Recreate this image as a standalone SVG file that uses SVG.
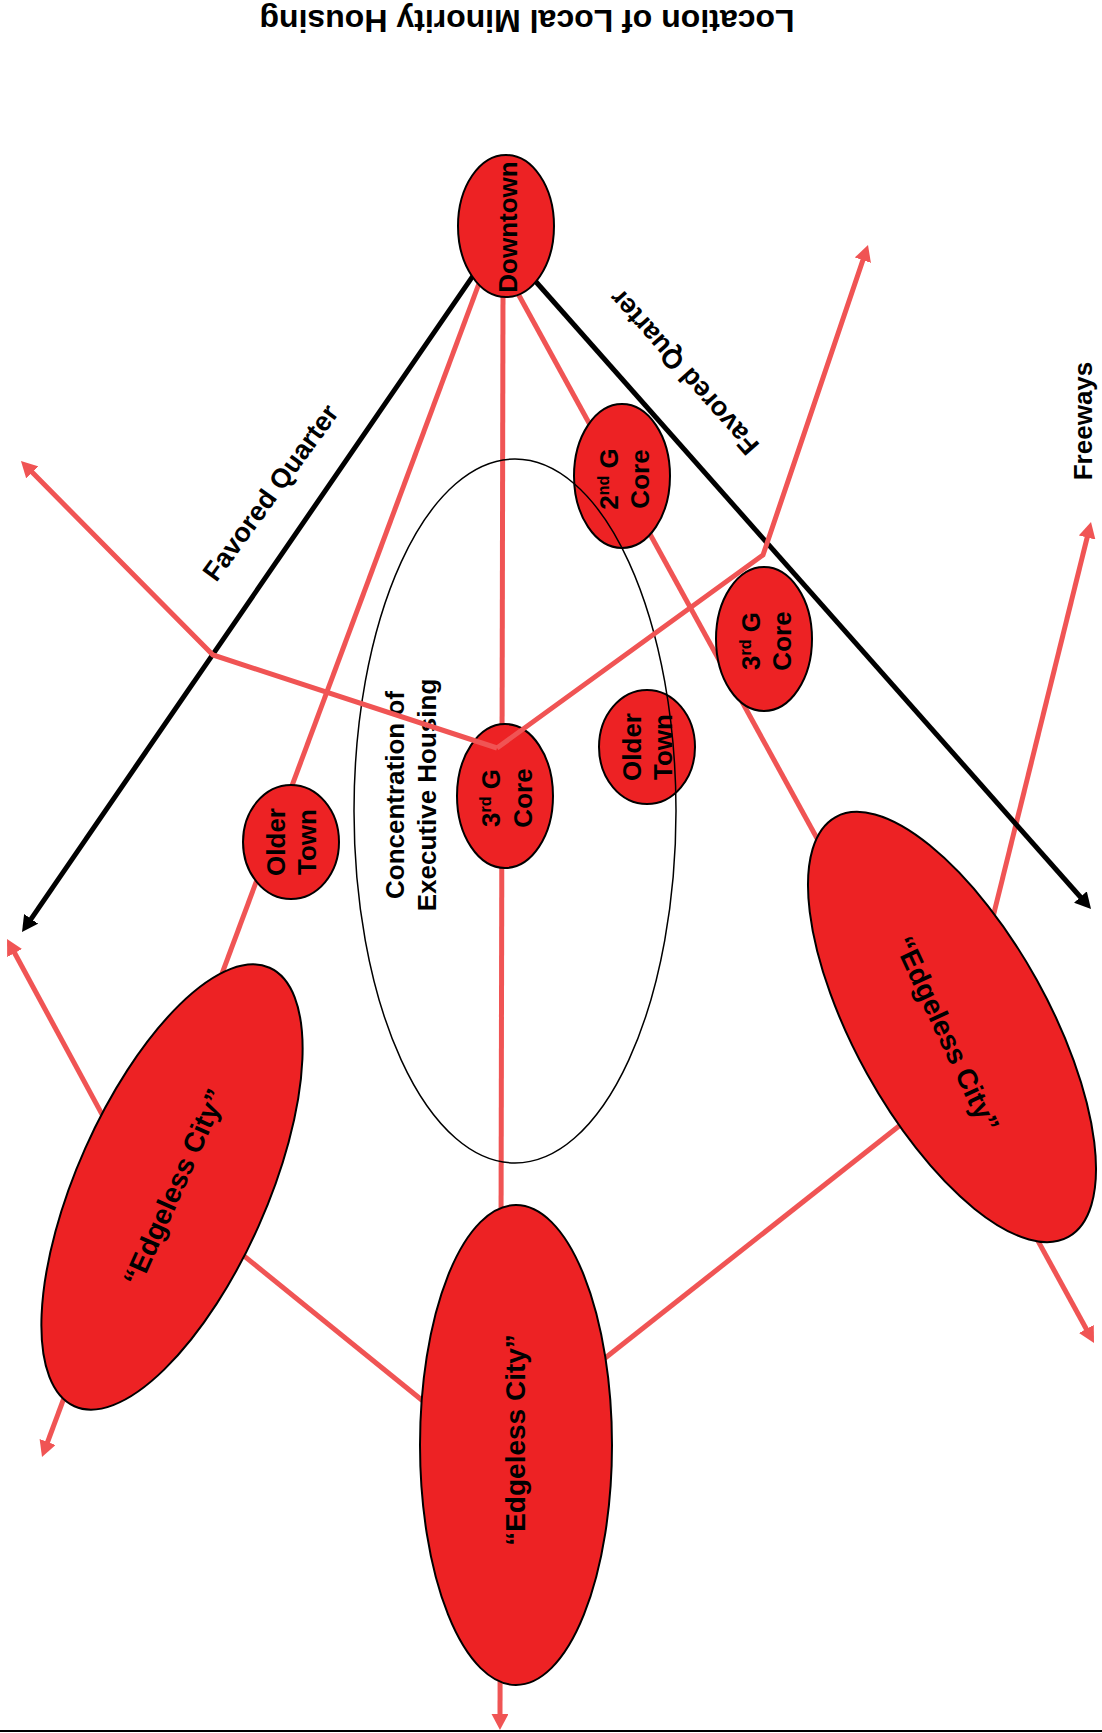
<svg xmlns="http://www.w3.org/2000/svg" width="1102" height="1733" viewBox="0 0 1102 1733">
<style>
.node{fill:#ED2224;stroke:#000;stroke-width:2}
.lbl{font-family:"Liberation Sans",Arial,sans-serif;font-weight:bold;font-size:26px;fill:#000;text-anchor:middle}
.big{font-size:28px}
.red{stroke:#F05454;stroke-width:5;fill:none}
.blk{stroke:#000;stroke-width:5;fill:none}
</style>
<defs>
<marker id="ar" markerUnits="userSpaceOnUse" markerWidth="16" markerHeight="17" viewBox="0 0 16 17" refX="6" refY="8.5" orient="auto"><path d="M0,0 L16,8.5 L0,17 z" fill="#F05454"/></marker>
<marker id="ab" markerUnits="userSpaceOnUse" markerWidth="16" markerHeight="17" viewBox="0 0 16 17" refX="6" refY="8.5" orient="auto"><path d="M0,0 L16,8.5 L0,17 z" fill="#000"/></marker>
</defs>
<rect width="1102" height="1733" fill="#fff"/>
<g id="title"><text class="lbl" style="font-size:32px" transform="translate(527,10) rotate(180)">Location of Local Minority Housing</text></g>
<g id="connectors">
<line class="red" x1="487" y1="262" x2="45.5" y2="1447.6" marker-end="url(#ar)"/>
<line class="red" x1="503" y1="290" x2="500" y2="1720" marker-end="url(#ar)"/>
<line class="red" x1="516" y1="290" x2="1089.2" y2="1334.2" marker-end="url(#ar)"/>
<line class="red" x1="106.5" y1="1122.6" x2="11.8" y2="947.8" marker-end="url(#ar)"/>
<line class="red" x1="985.8" y1="946" x2="1088.6" y2="531.7" marker-end="url(#ar)"/>
<line class="red" x1="233" y1="1247" x2="439" y2="1414"/>
<line class="red" x1="590" y1="1370" x2="913" y2="1115"/>
<line class="blk" x1="475.7" y1="271.8" x2="27.7" y2="923.8" marker-end="url(#ab)"/>
<line class="blk" x1="530.4" y1="275.5" x2="1084.4" y2="901.5" marker-end="url(#ab)"/>
</g>
<g id="downtown"><ellipse class="node" cx="506" cy="226" rx="48" ry="71"/><text class="lbl" transform="translate(517,227) rotate(-90)">Downtown</text></g>
<g id="core2"><ellipse class="node" cx="622" cy="476" rx="48" ry="72"/><text class="lbl" transform="translate(623,479) rotate(-90)"><tspan x="0" y="-5">2<tspan style="font-size:16px" dy="-9">nd</tspan><tspan dy="9"> G</tspan></tspan><tspan x="0" y="26">Core</tspan></text></g>
<g id="core3a"><ellipse class="node" cx="764" cy="639" rx="48" ry="72"/><text class="lbl" transform="translate(764,641) rotate(-90)"><tspan x="0" y="-4">3<tspan style="font-size:16px" dy="-9">rd</tspan><tspan dy="9"> G</tspan></tspan><tspan x="0" y="27">Core</tspan></text></g>
<g id="core3b"><ellipse class="node" cx="505" cy="796" rx="48" ry="72"/><text class="lbl" transform="translate(505,798) rotate(-90)"><tspan x="0" y="-5">3<tspan style="font-size:16px" dy="-9">rd</tspan><tspan dy="9"> G</tspan></tspan><tspan x="0" y="27">Core</tspan></text></g>
<g id="oldertown-right"><ellipse class="node" cx="647" cy="747" rx="48" ry="57"/><text class="lbl" transform="translate(647,747) rotate(-90)"><tspan x="0" y="-6">Older</tspan><tspan x="0" y="25">Town</tspan></text></g>
<g id="oldertown-left"><ellipse class="node" cx="291" cy="842" rx="48" ry="57"/><text class="lbl" transform="translate(291,842) rotate(-90)"><tspan x="0" y="-6">Older</tspan><tspan x="0" y="25">Town</tspan></text></g>
<g id="edgeless-left"><ellipse class="node" cx="0" cy="0" rx="240" ry="95" transform="translate(172,1187) rotate(-66)"/><text class="lbl big" transform="translate(174,1187) rotate(-66)" y="10">“Edgeless City”</text></g>
<g id="edgeless-center"><ellipse class="node" cx="516" cy="1445" rx="96" ry="240"/><text class="lbl big" transform="translate(525,1440) rotate(-90)">“Edgeless City”</text></g>
<g id="edgeless-right"><ellipse class="node" cx="0" cy="0" rx="240" ry="97" transform="translate(952,1027) rotate(61)"/><text class="lbl big" transform="translate(947,1034) rotate(65)" y="10">“Edgeless City”</text></g>
<g id="executive-housing"><ellipse cx="515" cy="811" rx="161" ry="352" fill="none" stroke="#000" stroke-width="1.5"/><text class="lbl" transform="translate(420,795) rotate(-90)"><tspan x="0" y="-16">Concentration of</tspan><tspan x="0" y="16">Executive Housing</tspan></text></g>
<g id="connectors-over">
<polyline class="red" points="497,748 213,655 28,468.1" marker-end="url(#ar)"/>
<polyline class="red" points="497,748 763,555 864.8,254.5" marker-end="url(#ar)"/>
</g>
<g id="labels">
<text class="lbl" style="font-size:27px" transform="translate(278,498) rotate(-54)">Favored Quarter</text>
<text class="lbl" style="font-size:27px" transform="translate(691,366) rotate(-131.5)">Favored Quarter</text>
<text class="lbl" transform="translate(1092,421) rotate(-90)">Freeways</text>
</g>
<line x1="0" y1="1731" x2="1102" y2="1731" stroke="#000" stroke-width="2"/>
</svg>
